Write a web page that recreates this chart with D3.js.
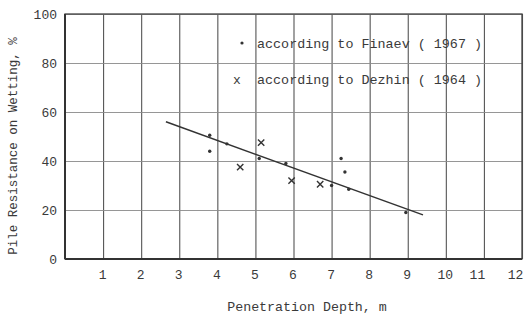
<!DOCTYPE html>
<html>
<head>
<meta charset="utf-8">
<script src="https://cdn.jsdelivr.net/npm/d3@7"></script>
<style>
  body { margin: 0; background: #fff; }
  text { font-family: "Liberation Mono", "DejaVu Sans Mono", monospace; fill: #3a3a3a; }
</style>
</head>
<body>
<script>
// values
let xTicks = [1, 2, 3, 4, 5, 6, 7, 8, 9, 10, 11, 12];
let yTicks = [0, 20, 40, 60, 80, 100];

let finaevX = [3.8, 3.8, 4.25, 5.1, 5.8, 7.0, 7.25, 7.35, 7.45, 8.95];
let finaevY = [50.5, 44, 47, 41, 39, 30, 41, 35.5, 28.5, 19];

let dezhinX = [4.6, 5.15, 5.95, 6.7];
let dezhinY = [37.5, 47.5, 32, 30.5];

let trendX = [2.65, 9.4];
let trendY = [56, 18];

let legendLabels = ["according to Finaev ( 1967 )", "according to Dezhin ( 1964 )"];

let svgWidth = 525,
    svgHeight = 316,
    margin = {top: 14, right: 3, bottom: 57, left: 65},
    width = svgWidth - margin.left - margin.right,
    height = svgHeight - margin.top - margin.bottom;

let svg = d3.select("body").append("svg")
    .attr("width", svgWidth)
    .attr("height", svgHeight);

let g = svg.append("g")
    .attr("transform", "translate(" + margin.left + "," + margin.top + ")");

let x = d3.scaleLinear().domain([0, 12]).range([0, width]);
let y = d3.scaleLinear().domain([0, 100]).range([height, 0]);

// vertical grid + x labels
let xAxis = g.append("g")
    .attr("transform", "translate(0," + height + ")")
    .call(d3.axisBottom(x).tickValues(xTicks).tickSize(-height).tickPadding(11));
xAxis.select(".domain").remove();
xAxis.selectAll("line").attr("stroke", "#555").attr("stroke-width", 1.1);
xAxis.selectAll("text")
    .attr("font-size", "13px")
    .attr("dx", d => d >= 11 ? -7 : -1)
    .style("font-family", "Liberation Mono, monospace");

// horizontal grid + y labels
let yAxis = g.append("g")
    .call(d3.axisLeft(y).tickValues(yTicks).tickSize(-width).tickPadding(8));
yAxis.select(".domain").remove();
yAxis.selectAll("line").attr("stroke", "#8a8a8a").attr("stroke-width", 0.9);
yAxis.selectAll("text").attr("font-size", "13px").style("font-family", "Liberation Mono, monospace");

// frame
g.append("rect")
    .attr("x", 0).attr("y", 0)
    .attr("width", width).attr("height", height)
    .attr("fill", "none")
    .attr("stroke", "#444")
    .attr("stroke-width", 1.3);
g.append("line")
    .attr("x1", 0).attr("x2", 0).attr("y1", 0).attr("y2", height)
    .attr("stroke", "#333").attr("stroke-width", 2);
g.append("line")
    .attr("x1", 0).attr("x2", width).attr("y1", height).attr("y2", height)
    .attr("stroke", "#333").attr("stroke-width", 1.8);

// trend line
g.append("line")
    .attr("x1", x(trendX[0])).attr("y1", y(trendY[0]))
    .attr("x2", x(trendX[1])).attr("y2", y(trendY[1]))
    .attr("stroke", "#333")
    .attr("stroke-width", 1.5);

// Finaev dots
g.selectAll(".finaev")
    .data(finaevX)
    .enter().append("circle")
    .attr("class", "finaev")
    .attr("cx", d => x(d))
    .attr("cy", (d, i) => y(finaevY[i]))
    .attr("r", 1.7)
    .attr("fill", "#333");

// Dezhin crosses
let cross = d3.symbol().type(d3.symbolX).size(28);
g.selectAll(".dezhin")
    .data(dezhinX)
    .enter().append("path")
    .attr("class", "dezhin")
    .attr("d", cross)
    .attr("transform", (d, i) => "translate(" + x(d) + "," + y(dezhinY[i]) + ")")
    .attr("fill", "none")
    .attr("stroke", "#333")
    .attr("stroke-width", 1.4);

// legend
svg.append("circle")
    .attr("cx", 242).attr("cy", 43)
    .attr("r", 1.6).attr("fill", "#333");
svg.append("text")
    .attr("x", 237).attr("y", 84)
    .attr("text-anchor", "middle")
    .attr("font-size", "13px")
    .text("x");
svg.selectAll(".legend")
    .data(legendLabels)
    .enter().append("text")
    .attr("class", "legend")
    .attr("x", 257)
    .attr("y", (d, i) => 48 + i * 36)
    .attr("font-size", "13.4px")
    .text(d => d);

// axis titles
svg.append("text")
    .attr("x", 307).attr("y", 311)
    .attr("text-anchor", "middle")
    .attr("font-size", "13.3px")
    .text("Penetration Depth, m");

svg.append("text")
    .attr("transform", "translate(17,146) rotate(-90)")
    .attr("text-anchor", "middle")
    .attr("font-size", "12.5px")
    .text("Pile Resistance on Wetting, %");
</script>
</body>
</html>
